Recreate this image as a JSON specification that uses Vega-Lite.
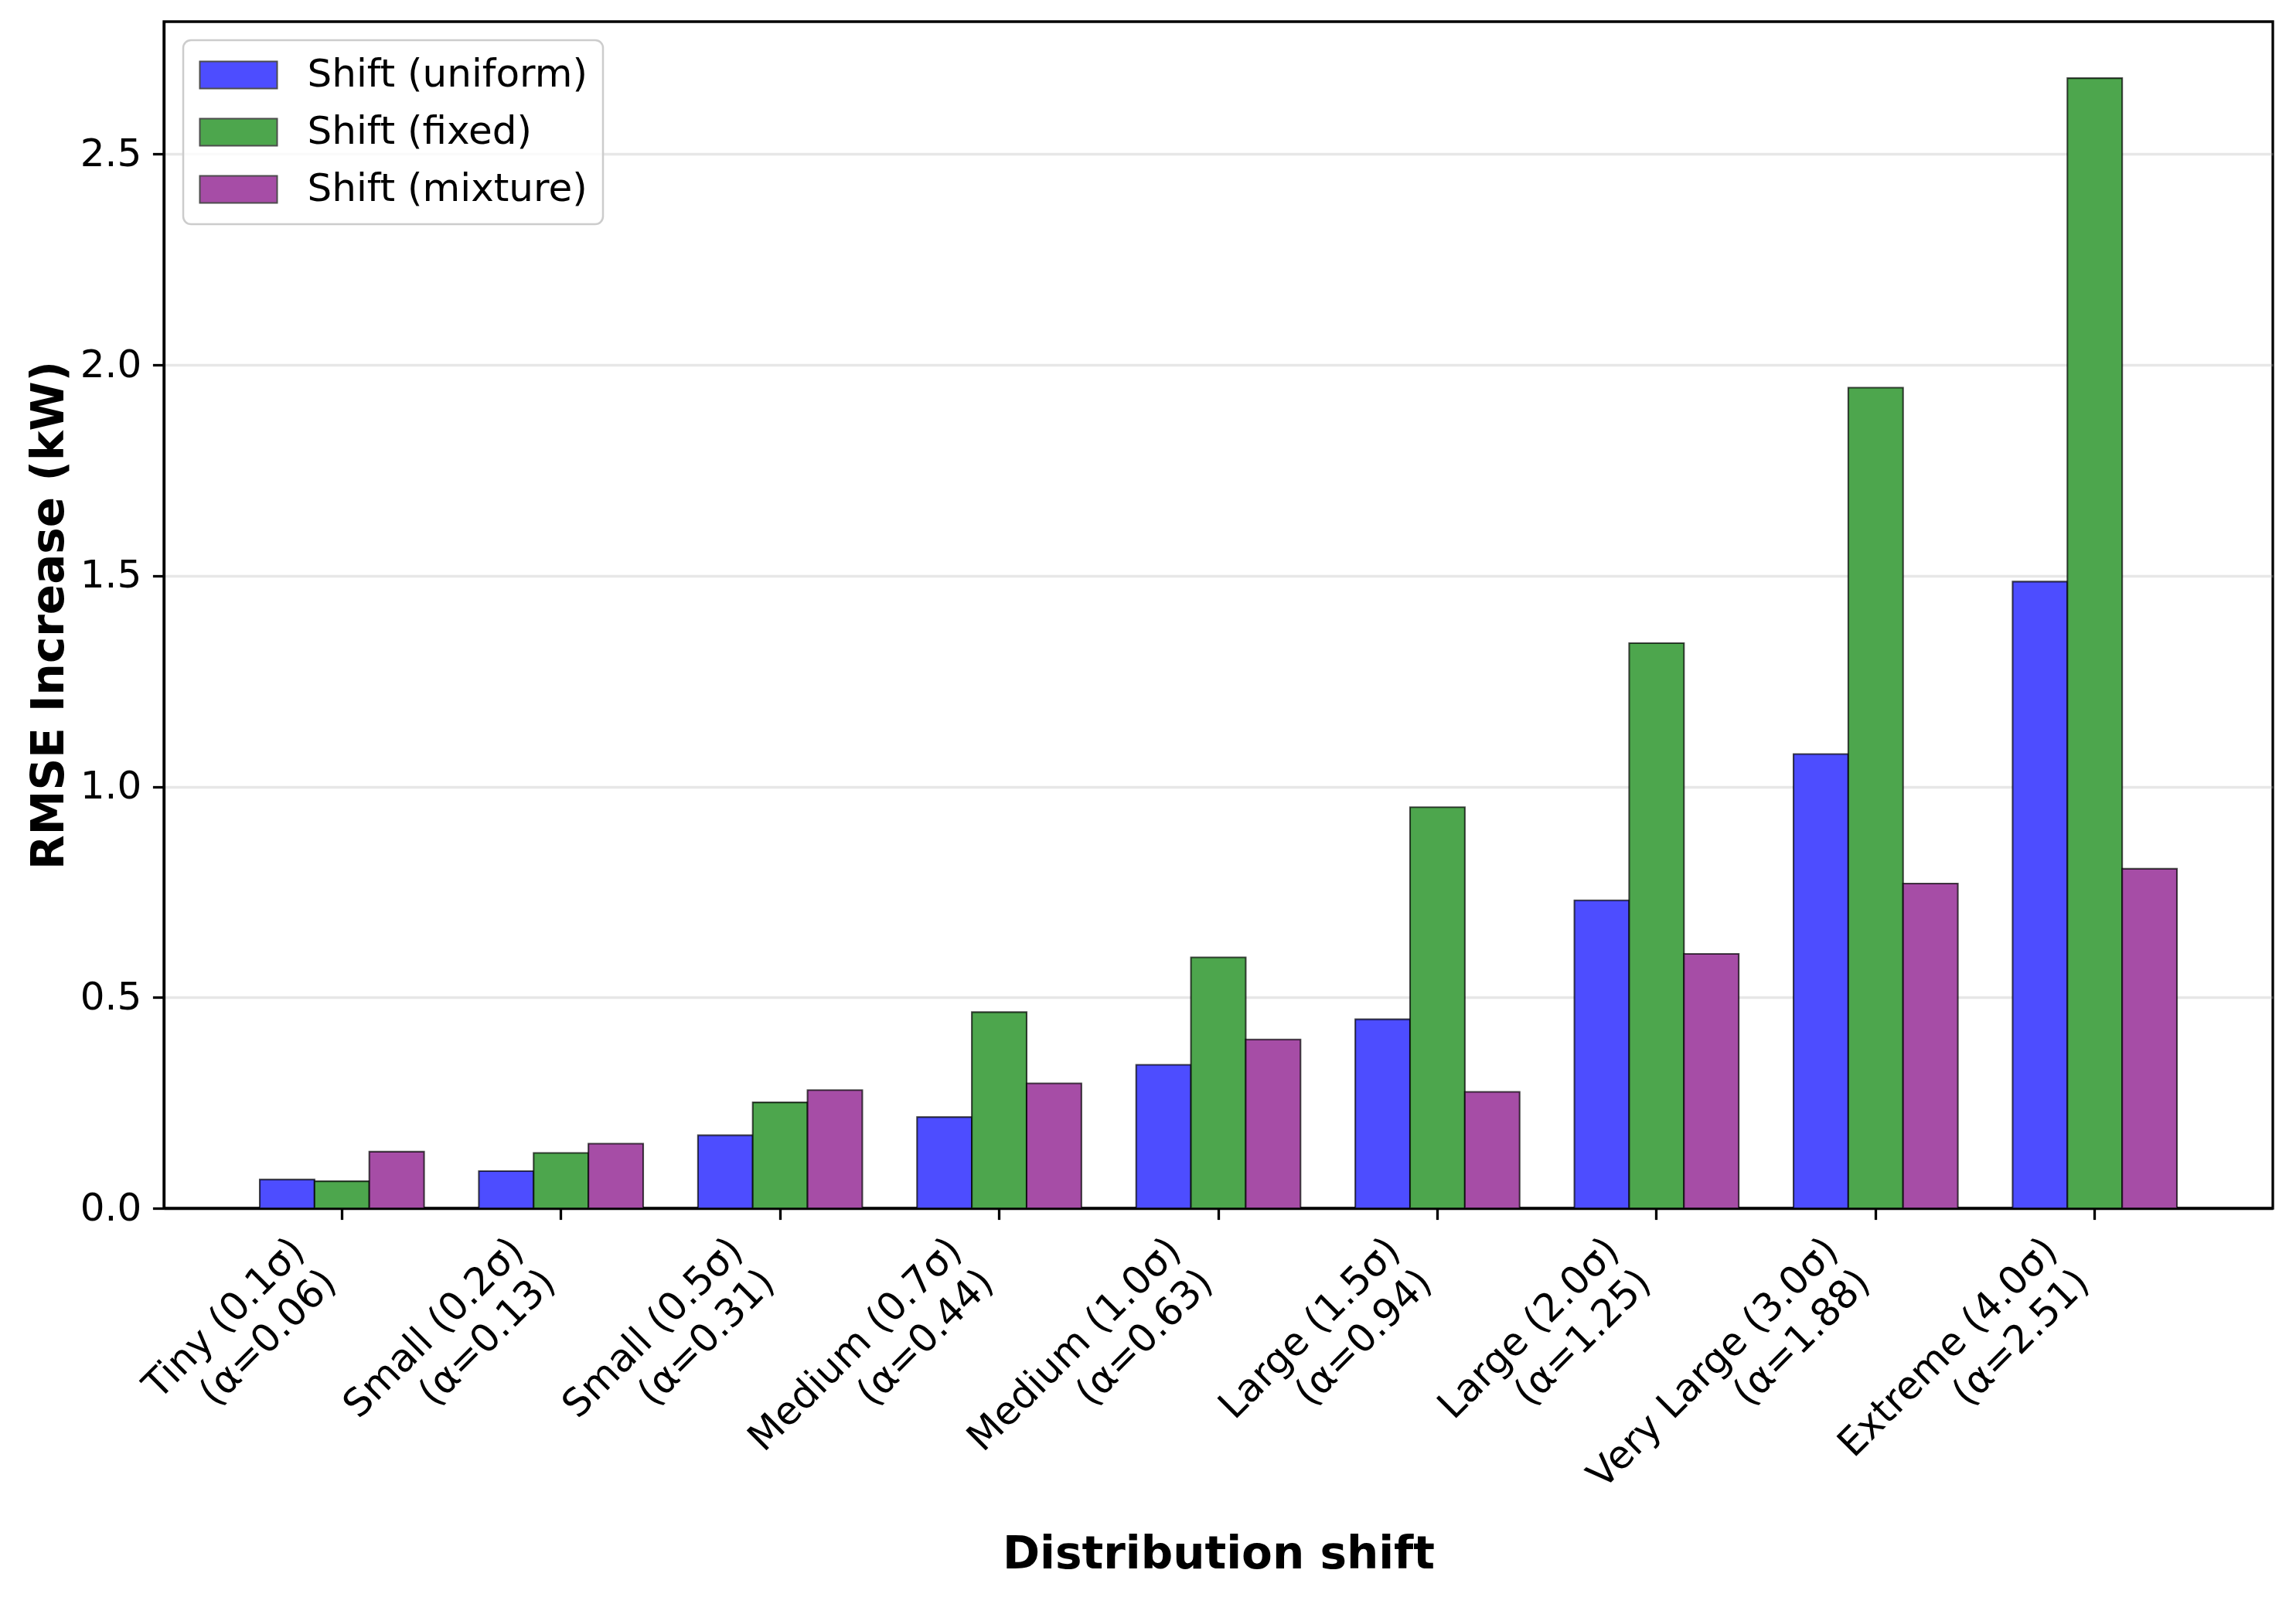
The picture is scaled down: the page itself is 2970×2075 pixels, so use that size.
{
  "$schema": "https://vega.github.io/schema/vega-lite/v6.json",
  "width": 2728,
  "height": 1535,
  "autosize": {"type": "none"},
  "padding": {"left": 212, "top": 28, "right": 30, "bottom": 512},
  "background": "white",
  "config": {
    "font": "DejaVu Sans",
    "view": {"stroke": "black", "strokeWidth": 3.3},
    "axis": {
      "labelFont": "DejaVu Sans",
      "titleFont": "DejaVu Sans",
      "labelColor": "black",
      "titleColor": "black",
      "domainColor": "black",
      "domainWidth": 3.3,
      "tickColor": "black",
      "tickWidth": 3.3,
      "tickSize": 14.6,
      "labelPadding": 14.6,
      "zindex": 1
    }
  },
  "data": {
    "values": [
      {"shift": "Tiny (0.1σ)\n(α=0.06)", "method": "Shift (uniform)", "value": 0.068},
      {"shift": "Tiny (0.1σ)\n(α=0.06)", "method": "Shift (fixed)", "value": 0.064},
      {"shift": "Tiny (0.1σ)\n(α=0.06)", "method": "Shift (mixture)", "value": 0.134},
      {"shift": "Small (0.2σ)\n(α=0.13)", "method": "Shift (uniform)", "value": 0.088},
      {"shift": "Small (0.2σ)\n(α=0.13)", "method": "Shift (fixed)", "value": 0.131},
      {"shift": "Small (0.2σ)\n(α=0.13)", "method": "Shift (mixture)", "value": 0.153},
      {"shift": "Small (0.5σ)\n(α=0.31)", "method": "Shift (uniform)", "value": 0.173},
      {"shift": "Small (0.5σ)\n(α=0.31)", "method": "Shift (fixed)", "value": 0.251},
      {"shift": "Small (0.5σ)\n(α=0.31)", "method": "Shift (mixture)", "value": 0.280},
      {"shift": "Medium (0.7σ)\n(α=0.44)", "method": "Shift (uniform)", "value": 0.216},
      {"shift": "Medium (0.7σ)\n(α=0.44)", "method": "Shift (fixed)", "value": 0.465},
      {"shift": "Medium (0.7σ)\n(α=0.44)", "method": "Shift (mixture)", "value": 0.296},
      {"shift": "Medium (1.0σ)\n(α=0.63)", "method": "Shift (uniform)", "value": 0.340},
      {"shift": "Medium (1.0σ)\n(α=0.63)", "method": "Shift (fixed)", "value": 0.595},
      {"shift": "Medium (1.0σ)\n(α=0.63)", "method": "Shift (mixture)", "value": 0.400},
      {"shift": "Large (1.5σ)\n(α=0.94)", "method": "Shift (uniform)", "value": 0.448},
      {"shift": "Large (1.5σ)\n(α=0.94)", "method": "Shift (fixed)", "value": 0.951},
      {"shift": "Large (1.5σ)\n(α=0.94)", "method": "Shift (mixture)", "value": 0.276},
      {"shift": "Large (2.0σ)\n(α=1.25)", "method": "Shift (uniform)", "value": 0.730},
      {"shift": "Large (2.0σ)\n(α=1.25)", "method": "Shift (fixed)", "value": 1.340},
      {"shift": "Large (2.0σ)\n(α=1.25)", "method": "Shift (mixture)", "value": 0.603},
      {"shift": "Very Large (3.0σ)\n(α=1.88)", "method": "Shift (uniform)", "value": 1.077},
      {"shift": "Very Large (3.0σ)\n(α=1.88)", "method": "Shift (fixed)", "value": 1.946},
      {"shift": "Very Large (3.0σ)\n(α=1.88)", "method": "Shift (mixture)", "value": 0.770},
      {"shift": "Extreme (4.0σ)\n(α=2.51)", "method": "Shift (uniform)", "value": 1.486},
      {"shift": "Extreme (4.0σ)\n(α=2.51)", "method": "Shift (fixed)", "value": 2.680},
      {"shift": "Extreme (4.0σ)\n(α=2.51)", "method": "Shift (mixture)", "value": 0.805}
    ]
  },
  "mark": {"type": "bar", "stroke": "black", "strokeOpacity": 0.7, "strokeWidth": 2.1, "opacity": 1},
  "encoding": {
    "x": {
      "field": "shift",
      "type": "nominal",
      "sort": null,
      "scale": {"type": "band", "paddingInner": 0.25, "paddingOuter": 0.4375},
      "axis": {
        "title": "Distribution shift",
        "titleFontSize": 58,
        "titleFontWeight": "bold",
        "titlePadding": 219,
        "labelFontSize": 50,
        "labelAngle": -45,
        "labelAlign": "right",
        "labelBaseline": "top",
        "labelOffset": -74,
        "labelLineHeight": 58,
        "labelLimit": 0,
        "labelOverlap": false,
        "labelBound": false,
        "labelExpr": "split(datum.label, '\\n')",
        "grid": false
      }
    },
    "xOffset": {
      "field": "method",
      "type": "nominal",
      "sort": ["Shift (uniform)", "Shift (fixed)", "Shift (mixture)"],
      "scale": {"paddingInner": 0, "paddingOuter": 0}
    },
    "y": {
      "field": "value",
      "type": "quantitative",
      "scale": {"domain": [0, 2.814], "nice": false, "zero": true},
      "axis": {
        "title": "RMSE Increase (kW)",
        "titleFontSize": 58,
        "titleFontWeight": "bold",
        "titlePadding": 10,
        "labelFontSize": 50,
        "values": [0, 0.5, 1, 1.5, 2, 2.5],
        "format": ".1f",
        "grid": true,
        "gridColor": "#b0b0b0",
        "gridOpacity": 0.3,
        "gridWidth": 3.3
      }
    },
    "color": {
      "field": "method",
      "type": "nominal",
      "sort": ["Shift (uniform)", "Shift (fixed)", "Shift (mixture)"],
      "scale": {
        "domain": ["Shift (uniform)", "Shift (fixed)", "Shift (mixture)"],
        "range": ["#4d4dff", "#4da64d", "#a64da6"]
      },
      "legend": {
        "title": null,
        "orient": "none",
        "legendX": 25,
        "legendY": 24,
        "padding": 20,
        "cornerRadius": 10,
        "strokeColor": "#cccccc",
        "fillColor": "rgba(255,255,255,0.8)",
        "labelFont": "DejaVu Sans",
        "labelFontSize": 50,
        "labelColor": "black",
        "labelLimit": 1000,
        "labelOffset": 64,
        "rowPadding": 24,
        "symbolType": "M-2.857,-1L2.857,-1L2.857,1L-2.857,1Z",
        "symbolSize": 1225,
        "symbolOffset": 26.5,
        "symbolStrokeColor": "#4d4d4d",
        "symbolStrokeWidth": 2,
        "symbolOpacity": 1,
        "zindex": 2,
        "encode": {"legend": {"update": {"strokeWidth": {"value": 2.5}}}}
      }
    }
  }
}
